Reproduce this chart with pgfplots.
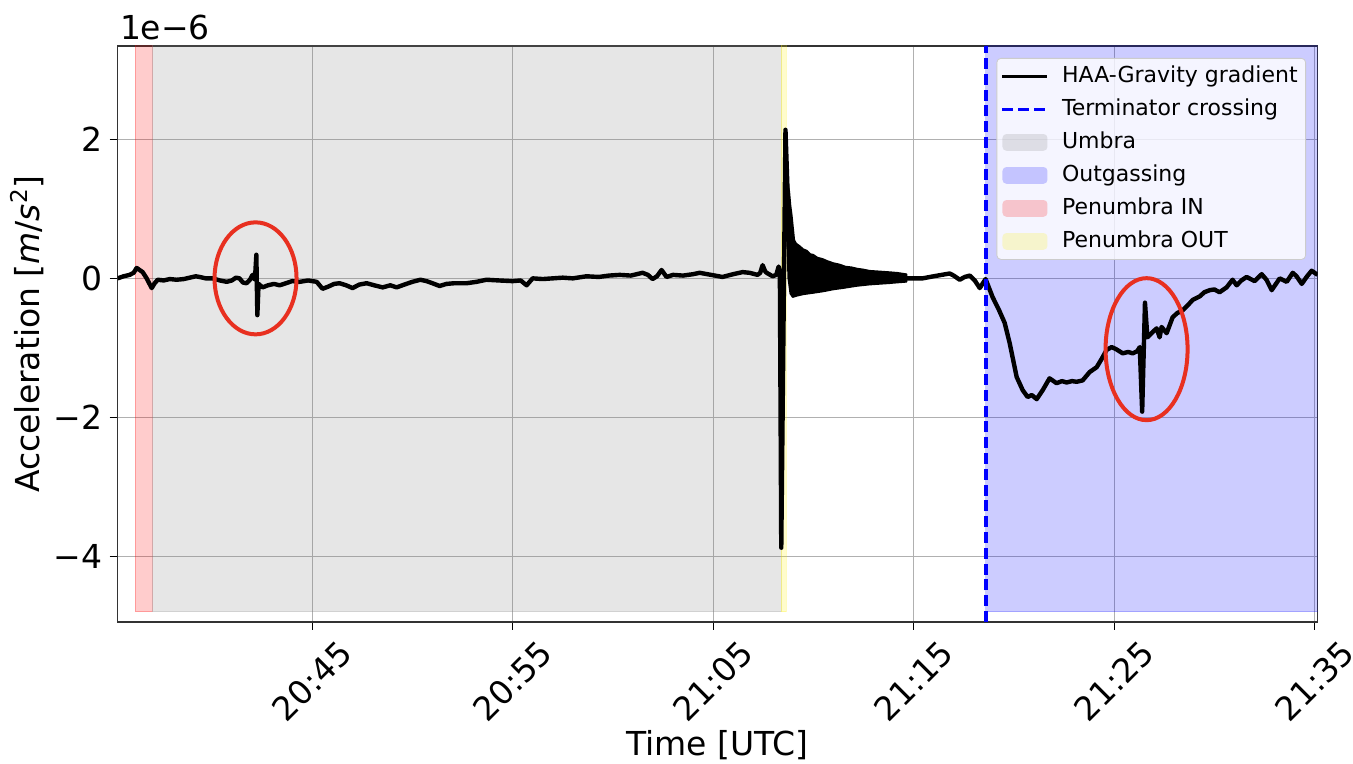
\documentclass[border=0pt]{standalone}
\usepackage{fontspec}
\setmainfont{DejaVu Sans}
\usepackage{pgfplots}
\pgfplotsset{compat=1.18}
\definecolor{ered}{RGB}{232,48,32}
\begin{document}
\begin{tikzpicture}
\useasboundingbox (-58.8pt,-71pt) rectangle (617.7pt,311pt);
\begin{axis}[
 at={(0pt,0pt)}, anchor=south west,
 scale only axis, width=600pt, height=288pt,
 xmin=35.30, xmax=95.15, ymin=-4.95, ymax=3.347,
 xtick={45,55,65,75,85,95},
 xticklabels={20:45,20:55,21:05,21:15,21:25,21:35},
 ytick={-4,-2,0,2}, yticklabels={−4,−2,0,2},
 tick label style={font=\fontsize{16.5}{19}\selectfont},
 xticklabel style={yshift=-25.5pt, rotate=45, anchor=center},
 tick align=outside, tick pos=left, major tick length=4pt,
 grid=major, grid style={color=black!31, line width=0.5pt},
 axis line style={black!80, line width=0.6pt},
 every tick/.style={black, line width=0.5pt},
 xlabel={Time [UTC]},
 ylabel={Acceleration [\textit{m}/\textit{s}\textsuperscript{2}]},
 label style={font=\fontsize{16.5}{19}\selectfont},
 xlabel style={at={(axis description cs:0.5,-0.2135)}, anchor=center},
 ylabel style={at={(axis description cs:-0.0755,0.5)}, anchor=center},
 legend style={at={(1,1)}, xshift=-5.8pt, yshift=-6pt, anchor=north east,
   font=\fontsize{11}{13}\selectfont, draw=black!20, fill=white,
   fill opacity=0.8, text opacity=1, draw opacity=1, rounded corners=2pt,
   inner xsep=2pt, inner ysep=1.5pt, row sep=1.5pt, column sep=4.5pt,
   nodes={inner sep=2pt, text height=8.4pt, text depth=2.6pt},
   cells={anchor=west}},
 legend image code/.code={\draw[#1, line width=1.6pt] (0pt,0pt) -- (22.5pt,0pt);},
]
% shaded regions
\addplot[draw=red, draw opacity=0.25, fill=red, fill opacity=0.2, forget plot]
 coordinates {(36.18,-4.8) (37.03,-4.8) (37.03,3.6) (36.18,3.6)} -- cycle;
\addplot[draw=gray, draw opacity=0.2, fill=gray, fill opacity=0.2, forget plot]
 coordinates {(37.03,-4.8) (68.40,-4.8) (68.40,3.6) (37.03,3.6)} -- cycle;
\addplot[draw=yellow, draw opacity=0.25, fill=yellow, fill opacity=0.2, forget plot]
 coordinates {(68.40,-4.8) (68.65,-4.8) (68.65,3.6) (68.40,3.6)} -- cycle;
\addplot[draw=blue, draw opacity=0.2, fill=blue, fill opacity=0.2, forget plot]
 coordinates {(78.59,-4.8) (95.5,-4.8) (95.5,3.6) (78.59,3.6)} -- cycle;
% oscillation band
\addplot[fill=black, draw=black, line width=0.8pt, line join=round, forget plot]
 coordinates {
(68.61,2.14) (68.68,1.6) (68.74,1.35) (68.80,1.25) (68.86,1.05) (68.92,0.92)
(68.98,0.75) (69.05,0.55) (69.15,0.50) (69.30,0.47) (69.50,0.42) (69.67,0.40)
(69.85,0.35) (70.00,0.34) (70.20,0.30) (70.46,0.28) (70.70,0.25) (71.00,0.22)
(71.31,0.20) (71.60,0.17) (71.90,0.16) (72.20,0.14) (72.46,0.13) (72.80,0.11)
(73.31,0.10) (73.80,0.09) (74.20,0.08) (74.65,0.06) (74.65,-0.05) (74.20,-0.06)
(73.80,-0.07) (73.31,-0.08) (72.80,-0.09) (72.16,-0.11) (71.50,-0.14) (71.00,-0.16)
(70.46,-0.19) (70.00,-0.21) (69.50,-0.23) (69.20,-0.25) (68.97,-0.27) (68.85,-0.22)
(68.75,0.0) (68.68,0.6)
} -- cycle;
% main trace
\addplot[black, line width=2.2pt, line join=round] coordinates {
(35.30,0.00) (35.6,0.03) (35.9,0.05) (36.1,0.08) (36.25,0.15) (36.4,0.12) (36.55,0.09)
(36.75,0.0) (37.0,-0.14) (37.15,-0.07) (37.3,-0.02) (37.6,-0.03) (37.9,-0.01) (38.24,-0.02)
(38.6,-0.01) (38.9,0.01) (39.2,0.03) (39.39,0.02) (39.7,0.0) (40.04,0.0) (40.4,-0.03)
(40.74,-0.05) (41.0,-0.03) (41.2,0.01) (41.38,0.0) (41.55,-0.06) (41.73,-0.07) (41.9,-0.02)
(42.03,0.05) (42.15,-0.02) (42.22,0.34) (42.27,-0.53) (42.33,-0.08) (42.53,-0.13) (42.8,-0.1)
(43.1,-0.08) (43.38,-0.1) (43.7,-0.07) (44.0,-0.04) (44.38,-0.05) (44.8,-0.03) (45.23,-0.05)
(45.52,-0.15) (45.8,-0.12) (46.1,-0.08) (46.37,-0.07) (46.7,-0.1) (47.02,-0.14) (47.35,-0.09)
(47.72,-0.07) (48.1,-0.1) (48.52,-0.13) (48.9,-0.1) (49.22,-0.13) (49.6,-0.09) (50.0,-0.05)
(50.4,-0.02) (50.71,-0.04) (51.0,-0.07) (51.36,-0.11) (51.7,-0.08) (52.1,-0.07) (52.71,-0.07)
(53.2,-0.05) (53.70,-0.02) (54.3,-0.03) (55.0,-0.04) (55.4,-0.03) (55.7,-0.1) (56.0,0.0)
(56.5,-0.01) (57.0,0.0) (57.5,0.01) (58.0,0.0) (58.69,0.03) (59.3,0.02) (59.8,0.04)
(60.34,0.05) (60.9,0.04) (61.48,0.08) (61.75,0.05) (61.98,-0.01) (62.2,0.03) (62.43,0.12)
(62.68,0.02) (63.0,0.05) (63.5,0.04) (64.0,0.06) (64.33,0.08) (64.9,0.05) (65.47,0.02)
(66.0,0.06) (66.47,0.09) (66.82,0.08) (67.22,0.05) (67.35,0.08) (67.47,0.19) (67.6,0.1)
(67.67,0.08) (67.97,0.03) (68.15,0.05) (68.27,0.17) (68.33,0.1) (68.40,-3.88) (68.61,2.14)
(68.72,1.2) (68.9,0.4) (69.5,0.1) (74.65,0.0) (75.45,0.0) (76.0,0.03) (76.4,0.05)
(76.80,0.07) (77.0,0.04) (77.30,-0.02) (77.55,0.02) (77.8,0.04) (78.05,-0.03) (78.3,-0.14)
(78.59,-0.01) (78.94,-0.27) (79.25,-0.45) (79.54,-0.64) (79.79,-0.93) (80.14,-1.42)
(80.44,-1.61) (80.69,-1.71) (80.89,-1.68) (81.14,-1.74) (81.44,-1.61) (81.78,-1.44)
(82.13,-1.51) (82.4,-1.48) (82.63,-1.50) (82.9,-1.48) (83.13,-1.49) (83.43,-1.47)
(83.78,-1.35) (84.13,-1.28) (84.4,-1.15) (84.63,-1.03) (84.88,-0.99) (85.1,-1.02)
(85.43,-1.08) (85.7,-1.06) (85.93,-1.08) (86.15,-1.05) (86.28,-0.99) (86.40,-1.92)
(86.54,-0.35) (86.66,-0.85) (86.9,-0.78) (87.12,-0.72) (87.27,-0.85) (87.37,-0.70)
(87.62,-0.79) (87.92,-0.56) (88.15,-0.50) (88.42,-0.46) (88.7,-0.38) (88.92,-0.31)
(89.27,-0.26) (89.5,-0.2) (89.77,-0.17) (90.0,-0.16) (90.26,-0.20) (90.61,-0.13)
(90.91,-0.02) (91.11,-0.10) (91.35,-0.03) (91.61,0.02) (92.01,-0.04) (92.36,0.06)
(92.6,-0.02) (92.86,-0.17) (93.26,0.0) (93.61,-0.05) (93.91,0.08) (94.1,0.03)
(94.36,-0.08) (94.6,0.02) (94.85,0.11) (95.15,0.05)
};
\addlegendentry{HAA-Gravity gradient}
\addplot[blue, line width=2pt, dash pattern=on 5.5pt off 2.4pt]
 coordinates {(78.59,-4.95) (78.59,3.347)};
\addlegendentry{Terminator crossing}
\addlegendimage{legend image code/.code={\path[draw=none, fill=gray, fill opacity=0.2] (0pt,-4.2pt) rectangle (22.5pt,4.2pt);}}
\addlegendentry{Umbra}
\addlegendimage{legend image code/.code={\path[draw=none, fill=blue, fill opacity=0.2] (0pt,-4.2pt) rectangle (22.5pt,4.2pt);}}
\addlegendentry{Outgassing}
\addlegendimage{legend image code/.code={\path[draw=none, fill=red, fill opacity=0.2] (0pt,-4.2pt) rectangle (22.5pt,4.2pt);}}
\addlegendentry{Penumbra IN}
\addlegendimage{legend image code/.code={\path[draw=none, fill=yellow, fill opacity=0.2] (0pt,-4.2pt) rectangle (22.5pt,4.2pt);}}
\addlegendentry{Penumbra OUT}
\draw[ered, line width=2pt] (axis cs:42.18,0) ellipse [x radius=20.5pt, y radius=28pt];
\draw[ered, line width=2pt] (axis cs:86.62,-1.02) ellipse [x radius=20.5pt, y radius=35.5pt];
\end{axis}
\node[anchor=south west, inner sep=0pt, font=\fontsize{16.5}{19}\selectfont] at (1pt,291pt) {1e−6};
\end{tikzpicture}
\end{document}
